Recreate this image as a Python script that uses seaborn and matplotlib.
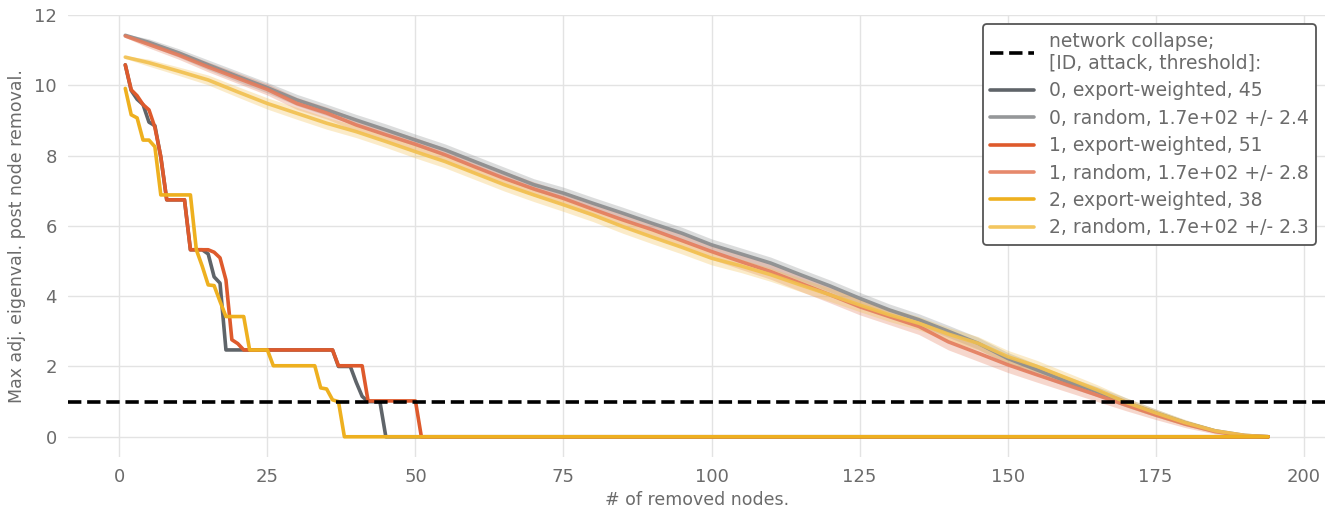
import numpy as np
import pandas as pd
import matplotlib
matplotlib.use("Agg")
import matplotlib.pyplot as plt
import seaborn as sns

# export-weighted attack: breakpoints (removed nodes, max eigenvalue)
ew0_x = [1, 2, 3, 4, 5, 6, 7, 8, 11, 12, 14, 15, 16, 17, 18, 36, 37, 39, 40, 41, 42, 44, 45, 194]
ew0_y = [10.58, 9.85, 9.6, 9.45, 8.95, 8.85, 7.95, 6.74, 6.74, 5.32, 5.32, 5.2, 4.55, 4.37, 2.47, 2.47, 2.0, 2.0, 1.55, 1.15, 1.0, 1.0, 0.0, 0.0]

ew1_x = [1, 2, 3, 4, 5, 6, 7, 8, 11, 12, 15, 16, 17, 18, 19, 20, 21, 36, 37, 41, 42, 50, 51, 194]
ew1_y = [10.58, 9.87, 9.7, 9.45, 9.3, 8.8, 7.97, 6.74, 6.74, 5.32, 5.32, 5.25, 5.09, 4.46, 2.76, 2.65, 2.47, 2.47, 2.02, 2.02, 1.02, 1.02, 0.0, 0.0]

ew2_x = [1, 2, 3, 4, 5, 6, 7, 12, 13, 14, 15, 16, 17, 18, 21, 22, 25, 26, 33, 34, 35, 36, 37, 38, 194]
ew2_y = [9.91, 9.16, 9.07, 8.44, 8.44, 8.25, 6.88, 6.88, 5.32, 4.85, 4.32, 4.3, 3.85, 3.42, 3.42, 2.47, 2.47, 2.02, 2.02, 1.39, 1.36, 1.05, 1.0, 0.0, 0.0]

# random attack: mean curve and spread
rnd_x = [1, 5, 10, 15, 20, 25, 30, 35, 40, 45, 50, 55, 60, 65, 70, 75, 80, 85, 90, 95,
         100, 105, 110, 115, 120, 125, 130, 135, 140, 145, 150, 155, 160, 165, 170, 175, 180, 185, 190, 194]
rnd0_y = [11.42, 11.22, 10.92, 10.58, 10.25, 9.93, 9.58, 9.30, 9.01, 8.73, 8.44, 8.16, 7.83, 7.50, 7.17, 6.93, 6.64, 6.36, 6.07, 5.79,
          5.46, 5.20, 4.94, 4.61, 4.29, 3.94, 3.61, 3.33, 3.00, 2.66, 2.23, 1.90, 1.57, 1.29, 0.98, 0.68, 0.40, 0.17, 0.04, 0.00]
rnd1_y = [11.40, 11.16, 10.86, 10.52, 10.20, 9.88, 9.48, 9.21, 8.87, 8.59, 8.32, 8.02, 7.68, 7.35, 7.05, 6.78, 6.47, 6.17, 5.89, 5.58,
          5.27, 4.98, 4.70, 4.37, 4.04, 3.70, 3.42, 3.14, 2.70, 2.38, 2.05, 1.76, 1.48, 1.19, 0.90, 0.62, 0.36, 0.15, 0.03, 0.00]
rnd2_y = [10.80, 10.64, 10.40, 10.15, 9.81, 9.48, 9.20, 8.92, 8.68, 8.40, 8.11, 7.83, 7.50, 7.17, 6.88, 6.60, 6.31, 5.98, 5.68, 5.39,
          5.08, 4.86, 4.61, 4.32, 4.04, 3.75, 3.47, 3.23, 2.92, 2.66, 2.28, 2.00, 1.67, 1.34, 0.98, 0.68, 0.40, 0.17, 0.04, 0.00]
rnd0_sd = [0.04, 0.1, 0.12, 0.14, 0.15, 0.15, 0.16, 0.16, 0.16, 0.17, 0.17, 0.17, 0.17, 0.17, 0.17, 0.17, 0.17, 0.17, 0.17, 0.17,
           0.17, 0.17, 0.17, 0.17, 0.17, 0.17, 0.17, 0.17, 0.17, 0.17, 0.17, 0.16, 0.15, 0.14, 0.13, 0.11, 0.08, 0.06, 0.03, 0.0]
rnd1_sd = [0.04, 0.1, 0.12, 0.14, 0.15, 0.16, 0.17, 0.17, 0.18, 0.18, 0.19, 0.19, 0.2, 0.2, 0.2, 0.2, 0.21, 0.21, 0.21, 0.21,
           0.22, 0.22, 0.22, 0.23, 0.23, 0.23, 0.23, 0.23, 0.23, 0.23, 0.22, 0.21, 0.2, 0.18, 0.16, 0.13, 0.1, 0.07, 0.03, 0.0]
rnd2_sd = [0.04, 0.1, 0.12, 0.14, 0.15, 0.16, 0.17, 0.17, 0.17, 0.17, 0.18, 0.18, 0.18, 0.18, 0.19, 0.19, 0.19, 0.19, 0.19, 0.19,
           0.19, 0.19, 0.19, 0.19, 0.19, 0.19, 0.19, 0.19, 0.19, 0.19, 0.18, 0.17, 0.16, 0.15, 0.13, 0.11, 0.09, 0.06, 0.03, 0.0]

labels_ew = ["0, export-weighted, 45", "1, export-weighted, 51", "2, export-weighted, 38"]
labels_rnd = ["0, random, 1.7e+02 +/- 2.4", "1, random, 1.7e+02 +/- 2.8", "2, random, 1.7e+02 +/- 2.3"]

col_ew = ["#5f6469", "#de5a2c", "#eeb01f"]
col_rnd = ["#8a8c8e", "#e47c5c", "#f2c04e"]

sns.set_style("whitegrid")
plt.rcParams["font.family"] = ["DejaVu Sans"]
txt = "#6b6b6b"

fig, ax = plt.subplots(figsize=(13.36, 5.15), dpi=100)
fig.subplots_adjust(left=0.051, right=0.992, top=0.971, bottom=0.113)

ax.axhline(1, color="black", ls="--", lw=2.6, label="network collapse;\n[ID, attack, threshold]:", zorder=5)

ew = [(ew0_x, ew0_y), (ew1_x, ew1_y), (ew2_x, ew2_y)]
rnd = [(rnd0_y, rnd0_sd), (rnd1_y, rnd1_sd), (rnd2_y, rnd2_sd)]
for i in range(3):
    sns.lineplot(x=ew[i][0], y=ew[i][1], color=col_ew[i], lw=2.6, label=labels_ew[i], ax=ax, zorder=3)
    m = np.array(rnd[i][0])
    s = np.array(rnd[i][1])
    sns.lineplot(x=rnd_x, y=m, color=col_rnd[i], lw=2.6, alpha=0.9, label=labels_rnd[i], ax=ax, zorder=2)
    ax.fill_between(rnd_x, m - s, m + s, color=col_rnd[i], alpha=0.3, lw=0, zorder=1)

ax.set_xticks([0, 25, 50, 75, 100, 125, 150, 175, 200])
ax.set_yticks([0, 2, 4, 6, 8, 10, 12])
ax.set_xlim(-8.65, 203.65)
ax.set_ylim(-0.57, 12.0)
ax.tick_params(labelsize=13, colors=txt, length=0, pad=8)
ax.set_xlabel("# of removed nodes.", fontsize=12.5, color=txt)
ax.set_ylabel("Max adj. eigenval. post node removal.", fontsize=12.5, color=txt, labelpad=6)
for sp in ax.spines.values():
    sp.set_visible(False)
ax.grid(color="#e3e3e3", lw=1)

leg = ax.legend(loc="upper right", fontsize=13.5, frameon=True, framealpha=1,
                edgecolor="#555555", labelcolor=txt, handlelength=2.3,
                borderaxespad=0.5, labelspacing=0.45)
leg.get_frame().set_linewidth(1.3)

plt.savefig("out.png", dpi=100)
